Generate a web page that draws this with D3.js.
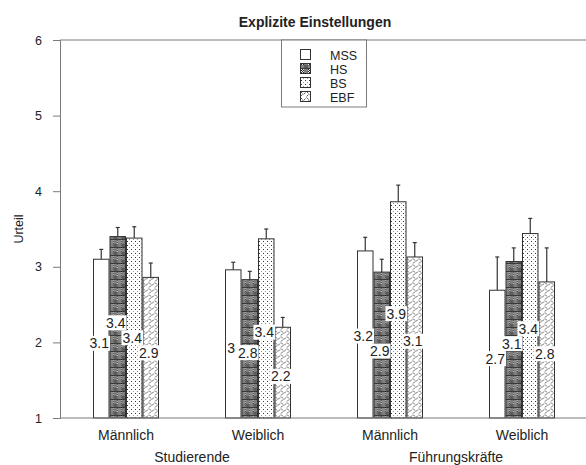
<!DOCTYPE html>
<html>
<head>
<meta charset="utf-8">
<script src="https://cdn.jsdelivr.net/npm/d3@7"></script>
<style>
body { margin: 0; background: #fff; }
svg text { font-family: "Liberation Sans", Arial, sans-serif; fill: #222; }
</style>
</head>
<body>
<div id="vis"></div>
<script>
// data
var groups = ["Männlich", "Weiblich", "Männlich", "Weiblich"];
var populations = ["Studierende", "Führungskräfte"];
var series = ["MSS", "HS", "BS", "EBF"];
var mss = [3.10, 2.96, 3.21, 2.69];
var hs  = [3.40, 2.83, 2.93, 3.07];
var bs  = [3.38, 3.37, 3.86, 3.44];
var ebf = [2.86, 2.20, 3.13, 2.80];
var mssErr = [0.13, 0.10, 0.18, 0.44];
var hsErr  = [0.12, 0.11, 0.17, 0.18];
var bsErr  = [0.15, 0.13, 0.22, 0.20];
var ebfErr = [0.19, 0.13, 0.19, 0.45];
var yTicks = [1, 2, 3, 4, 5, 6];

var values = [mss, hs, bs, ebf];
var errors = [mssErr, hsErr, bsErr, ebfErr];

var width = 586, height = 465;
var margin = {top: 40, right: -2, bottom: 47, left: 60};

var svg = d3.select("#vis").append("svg")
	.attr("width", width)
	.attr("height", height);

// fill patterns
var defs = svg.append("defs");

var pHS = defs.append("pattern").attr("id", "pHS")
	.attr("patternUnits", "userSpaceOnUse").attr("width", 8).attr("height", 8);
pHS.append("rect").attr("width", 8).attr("height", 8).attr("fill", "#7e7e7e");
for (var i = 0; i < 4; i++) {
	for (var j = 0; j < 4; j++) {
		pHS.append("rect").attr("x", i).attr("y", j).attr("width", 1).attr("height", 1)
			.attr("fill", (i + j) % 2 ? "#eee" : "#222");
	}
}
pHS.append("rect").attr("x", 4).attr("y", 4).attr("width", 4).attr("height", 4).attr("fill", "#5c5c5c");
pHS.append("line").attr("x1", 0).attr("x2", 8).attr("y1", 7.5).attr("y2", 7.5).attr("stroke", "#3a3a3a").attr("stroke-width", 1);

var pBS = defs.append("pattern").attr("id", "pBS")
	.attr("patternUnits", "userSpaceOnUse").attr("width", 4).attr("height", 4);
pBS.append("rect").attr("width", 4).attr("height", 4).attr("fill", "#fff");
pBS.append("rect").attr("x", 1).attr("y", 1).attr("width", 1).attr("height", 1).attr("fill", "#333");
pBS.append("rect").attr("x", 3).attr("y", 3).attr("width", 1).attr("height", 1).attr("fill", "#999");

var pEBF = defs.append("pattern").attr("id", "pEBF")
	.attr("patternUnits", "userSpaceOnUse").attr("width", 6).attr("height", 6);
pEBF.append("rect").attr("width", 6).attr("height", 6).attr("fill", "#fff");
pEBF.append("path").attr("d", "M0.5,0.5 L2.5,2.5 M3.5,3.5 L5.5,1.5 M0.5,5.5 L2.5,3.5")
	.attr("stroke", "#333").attr("stroke-width", 0.8).attr("fill", "none");

var fills = ["#fff", "url(#pHS)", "url(#pBS)", "url(#pEBF)"];

// scales
var x = d3.scaleBand()
	.domain(d3.range(groups.length))
	.range([margin.left, width - margin.right])
	.paddingInner(0.5).paddingOuter(0.25);

var xs = d3.scaleBand()
	.domain(series)
	.range([0, x.bandwidth()]);

var y = d3.scaleLinear()
	.domain([1, 6])
	.range([height - margin.bottom, margin.top]);

// frame
svg.append("line")
	.attr("x1", margin.left).attr("x2", width - margin.right)
	.attr("y1", margin.top).attr("y2", margin.top)
	.attr("stroke", "#7a7a7a");

var yAxis = svg.append("g")
	.attr("transform", "translate(" + margin.left + ",0)")
	.call(d3.axisLeft(y).tickValues(yTicks).tickSize(7).tickPadding(11).tickFormat(d3.format("d")));
yAxis.select(".domain").attr("stroke", "#7a7a7a");
yAxis.selectAll(".tick line").attr("stroke", "#7a7a7a");
yAxis.selectAll(".tick text").style("font-size", "12.5px")
	.style("font-family", "'Liberation Sans', Arial, sans-serif").attr("fill", "#222");

svg.append("text")
	.attr("transform", "translate(23," + (y(3.5)) + ") rotate(-90)")
	.attr("text-anchor", "middle")
	.style("font-size", "12.5px")
	.text("Urteil");

svg.append("text")
	.attr("x", 315).attr("y", 27)
	.attr("text-anchor", "middle")
	.style("font-size", "14px").style("font-weight", "bold")
	.text("Explizite Einstellungen");

// bars
var flat = [];
groups.forEach(function(g, gi) {
	series.forEach(function(s, si) {
		flat.push({g: gi, s: si, name: s, v: values[si][gi], e: errors[si][gi]});
	});
});

var bar = svg.append("g").attr("class", "bars").selectAll("g")
	.data(flat)
	.enter().append("g")
	.attr("transform", function(d) { return "translate(" + (x(d.g) + xs(d.name)) + ",0)"; });

bar.append("line")
	.attr("x1", xs.bandwidth() / 2).attr("x2", xs.bandwidth() / 2)
	.attr("y1", function(d) { return y(d.v); })
	.attr("y2", function(d) { return y(d.v + d.e); })
	.attr("stroke", "#333").attr("stroke-width", 1.2);
bar.append("line")
	.attr("x1", xs.bandwidth() / 2 - 2).attr("x2", xs.bandwidth() / 2 + 2)
	.attr("y1", function(d) { return y(d.v + d.e); })
	.attr("y2", function(d) { return y(d.v + d.e); })
	.attr("stroke", "#333").attr("stroke-width", 1.2);

bar.append("rect")
	.attr("x", 0.5)
	.attr("y", function(d) { return y(d.v); })
	.attr("width", xs.bandwidth() - 1)
	.attr("height", function(d) { return y(1) - y(d.v); })
	.attr("fill", function(d) { return fills[d.s]; })
	.attr("stroke", "#333").attr("stroke-width", 1);

// value labels, start mid-bar then push apart where they collide
var fmt = d3.format(".2~r");
var labels = svg.append("g").attr("class", "labels").selectAll("g")
	.data(flat)
	.enter().append("g");

labels.append("rect").attr("fill", "#fff");
labels.append("text")
	.attr("text-anchor", "middle")
	.attr("dy", "0.36em")
	.style("font-size", "14px")
	.text(function(d) { return fmt(d.v); });

labels.each(function(d) {
	var bb = d3.select(this).select("text").node().getBBox();
	d.w = bb.width + 2;
	d.h = 15;
	d.cx = x(d.g) + xs(d.name) + xs.bandwidth() / 2 - 2;
	d.cy = y((d.v + 1) / 2 - 0.05);
	d.top = y(d.v) + d.h / 2 + 2;
	d.bottom = y(1) - d.h / 2 - 2;
});

for (var it = 0; it < 200; it++) {
	for (var a = 0; a < flat.length; a++) {
		for (var b = a + 1; b < flat.length; b++) {
			var p = flat[a], q = flat[b];
			if (p.g !== q.g) continue;
			var ox = (p.w + q.w) / 2 - Math.abs(p.cx - q.cx);
			var oy = (p.h + q.h) / 2 - Math.abs(p.cy - q.cy);
			if (ox > 0 && oy > 0) {
				var dir = p.cy <= q.cy ? -1 : 1;
				p.cy += dir * oy / 2 * 0.5;
				q.cy -= dir * oy / 2 * 0.5;
			}
		}
	}
	flat.forEach(function(d) { d.cy = Math.max(d.top, Math.min(d.bottom, d.cy)); });
}

labels.attr("transform", function(d) { return "translate(" + d.cx + "," + d.cy + ")"; });
labels.select("rect")
	.attr("x", function(d) { return -d.w / 2; })
	.attr("y", function(d) { return -d.h / 2; })
	.attr("width", function(d) { return d.w; })
	.attr("height", function(d) { return d.h; });

// baseline
svg.append("line")
	.attr("x1", margin.left).attr("x2", width - margin.right)
	.attr("y1", y(1)).attr("y2", y(1))
	.attr("stroke", "#7a7a7a").attr("stroke-width", 1.2);

// category labels
svg.append("g").selectAll("text")
	.data(groups)
	.enter().append("text")
	.attr("x", function(d, i) { return x(i) + x.bandwidth() / 2; })
	.attr("y", 440)
	.attr("text-anchor", "middle")
	.style("font-size", "14px")
	.text(function(d) { return d; });

svg.append("g").selectAll("text")
	.data(populations)
	.enter().append("text")
	.attr("x", function(d, i) { return (x(2 * i) + x(2 * i + 1) + x.bandwidth()) / 2; })
	.attr("y", 462)
	.attr("text-anchor", "middle")
	.style("font-size", "14px")
	.text(function(d) { return d; });

// legend
var legend = svg.append("g").attr("class", "legend");
legend.append("rect")
	.attr("x", 281.5).attr("y", margin.top)
	.attr("width", 85).attr("height", 67)
	.attr("fill", "#fff").attr("stroke", "#7a7a7a");

var item = legend.selectAll("g.item")
	.data(series)
	.enter().append("g")
	.attr("class", "item")
	.attr("transform", function(d, i) { return "translate(300," + (55 + i * 14) + ")"; });

item.append("rect")
	.attr("x", 0.5).attr("y", -5.5)
	.attr("width", 10).attr("height", 10)
	.attr("fill", function(d, i) { return fills[i]; })
	.attr("stroke", "#333");

item.append("text")
	.attr("x", 30).attr("dy", "0.36em")
	.style("font-size", "12.5px")
	.text(function(d) { return d; });
</script>
</body>
</html>
